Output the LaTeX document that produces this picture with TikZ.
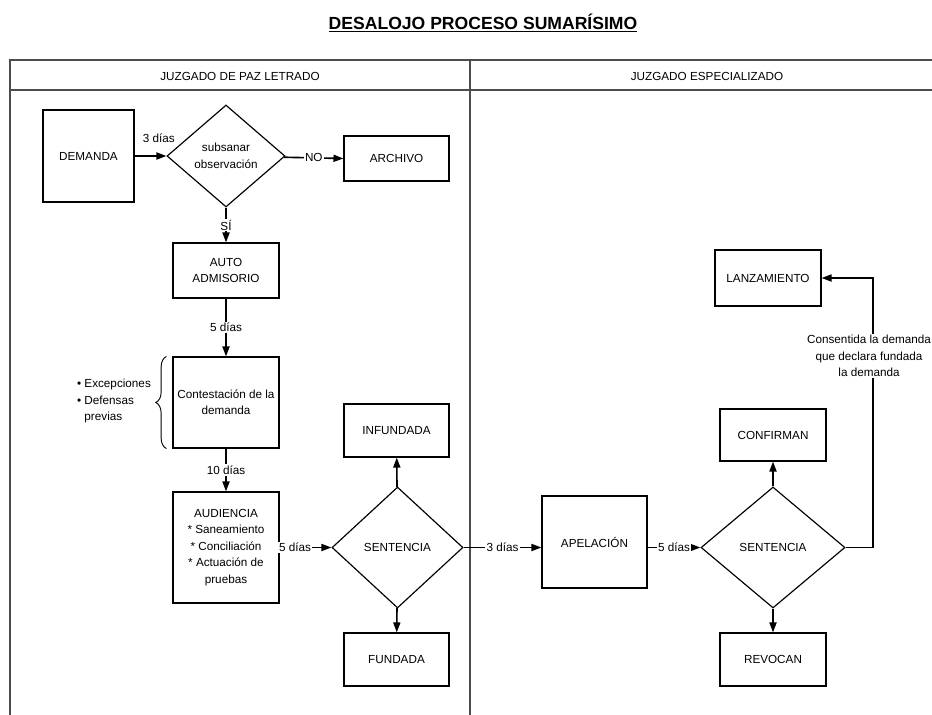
\documentclass[tikz,border=0pt]{standalone}
\usepackage{fontspec}
\setmainfont{Liberation Sans}
\usetikzlibrary{positioning, shapes.geometric, arrows.meta}
\usetikzlibrary{decorations.pathreplacing}

\newcommand{\pxu}{0.03cm}

\begin{document}
\begin{tikzpicture}[x=0.03cm, y=-0.03cm]


\tikzstyle{box_style} = [rectangle, draw=black, line width=1pt, align=center, inner sep=1pt, font=\fontsize{10}{14}\selectfont]

\tikzstyle{dec_style} = [diamond, draw=black, line width=1pt, align=center, inner sep=0pt, font=\fontsize{10}{14}\selectfont]

\tikzstyle{edge_style} = [draw=black, line width=1.4pt, -{Triangle[length=8.5pt, width=6pt]}]

\tikzstyle{label_style} = [fill=white, inner sep=1pt, font=\fontsize{10}{14}\selectfont]

\tikzstyle{pool_style} = [draw=black!70, line width=0.9pt]


\clip (0,0) rectangle (932,714);

\node[inner sep=0pt] (title) at (483, 23) {\fontsize{15}{18}\selectfont\bfseries\underline{DESALOJO PROCESO SUMARÍSIMO}};

% calles
\draw[pool_style] (10,60) rectangle (950,740);
\draw[pool_style] (10,90) -- (950,90);
\draw[pool_style] (470,60) -- (470,740);

\node (pool1) at (240, 76) {JUZGADO DE PAZ LETRADO};
\node (pool2) at (707, 76) {JUZGADO ESPECIALIZADO};

% juzgado de paz
\node[box_style, minimum width={91*\pxu}, minimum height={92*\pxu}] (demanda) at (88.5, 156) {DEMANDA};
\node[dec_style, minimum width={118*\pxu}, minimum height={102*\pxu}] (subsanar) at (226, 156) {subsanar\\observación};
\node[box_style, minimum width={105*\pxu}, minimum height={45*\pxu}] (archivo) at (396.5, 158.5) {ARCHIVO};
\node[box_style, minimum width={106*\pxu}, minimum height={55*\pxu}] (auto) at (226, 270.5) {AUTO\\ADMISORIO};
\node[box_style, minimum width={106*\pxu}, minimum height={91*\pxu}] (contestacion) at (226, 402.5) {Contestación de la\\demanda};
\node[box_style, minimum width={106*\pxu}, minimum height={111*\pxu}] (audiencia) at (226, 547.5) {AUDIENCIA\\* Saneamiento\\* Conciliación\\* Actuación de\\pruebas};
\node[dec_style, minimum width={131*\pxu}, minimum height={121*\pxu}] (sentencia1) at (397.5, 547.5) {SENTENCIA};
\node[box_style, minimum width={105*\pxu}, minimum height={53*\pxu}] (infundada) at (396.5, 430.5) {INFUNDADA};
\node[box_style, minimum width={105*\pxu}, minimum height={53*\pxu}] (fundada) at (396.5, 659.5) {FUNDADA};

\node[align=left, font=\fontsize{10}{14}\selectfont] (excepciones) at (114, 401) {\textbullet\ Excepciones\\\textbullet\ Defensas\\\phantom{\textbullet\ }previas};
\draw[line width=0.8pt, decorate, decoration={brace, amplitude=9pt}] ([xshift={-6*\pxu}]contestacion.south west) -- ([xshift={-6*\pxu}]contestacion.north west);

% juzgado especializado
\node[box_style, minimum width={105*\pxu}, minimum height={92*\pxu}] (apelacion) at (594.5, 542) {APELACIÓN};
\node[dec_style, minimum width={144*\pxu}, minimum height={121*\pxu}] (sentencia2) at (773, 547.5) {SENTENCIA};
\node[box_style, minimum width={106*\pxu}, minimum height={52*\pxu}] (confirman) at (773, 435) {CONFIRMAN};
\node[box_style, minimum width={106*\pxu}, minimum height={53*\pxu}] (revocan) at (773, 659.5) {REVOCAN};
\node[box_style, minimum width={106*\pxu}, minimum height={56*\pxu}] (lanzamiento) at (768, 278) {LANZAMIENTO};

\coordinate (turn) at (873, 547.5);


\draw[edge_style] (demanda) -- node[pos=0.76, above=10pt, inner sep=1pt] {3 días} (subsanar);
\draw[edge_style] (subsanar) -- node[label_style] {NO} (archivo.west);
\draw[edge_style] (subsanar) -- node[label_style] {SÍ} (auto);
\draw[edge_style] (auto) -- node[label_style] {5 días} (contestacion);
\draw[edge_style] (contestacion) -- node[label_style] {10 días} (audiencia);
\draw[edge_style] (audiencia) -- node[label_style, pos=0.3] {5 días} (sentencia1);
\draw[edge_style] (sentencia1) edge (infundada);
\draw[edge_style] (sentencia1) edge (fundada);

\draw[edge_style] (sentencia1.east) -- node[label_style] {3 días} (sentencia1.east -| apelacion.west);
\draw[edge_style] (apelacion.east |- sentencia2.west) -- node[label_style] {5 días} (sentencia2.west);
\draw[edge_style] (sentencia2) edge (confirman);
\draw[edge_style] (sentencia2) edge (revocan);
\draw[edge_style] (sentencia2.east) -- (turn) -- node[label_style, pos=0.71, align=center, xshift={-4*\pxu}] {Consentida la demanda\\que declara fundada\\la demanda} (turn |- lanzamiento.east) -- (lanzamiento.east);


\end{tikzpicture}
\end{document}
